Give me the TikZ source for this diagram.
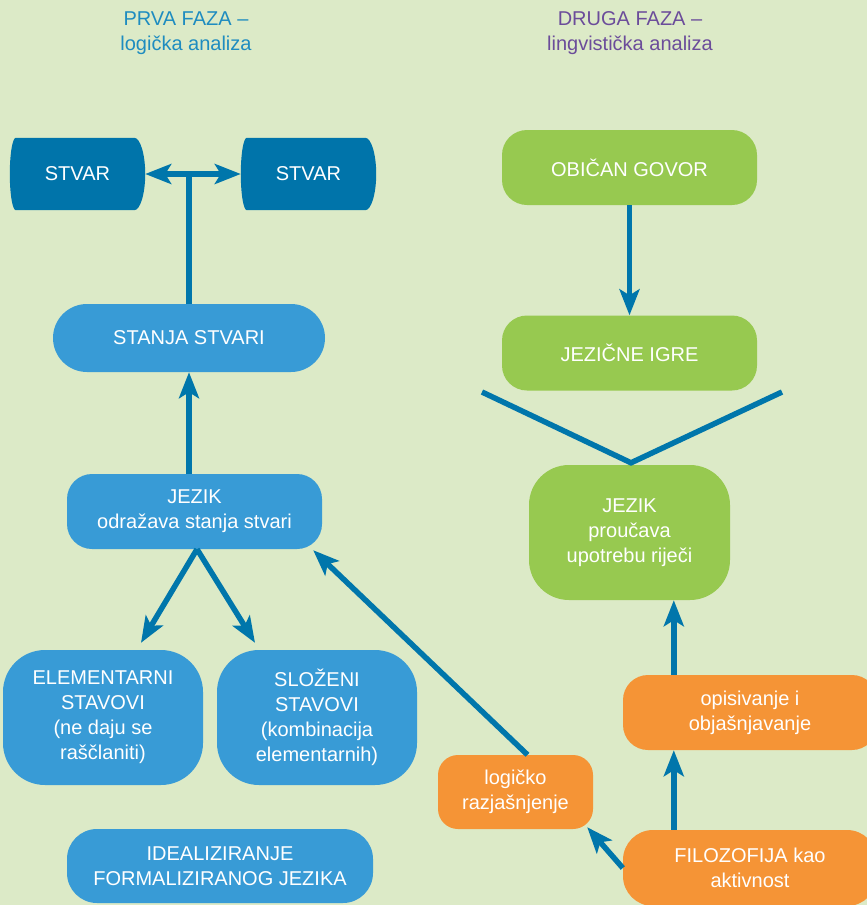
\documentclass[tikz,border=0pt]{standalone}
\usepackage{fontspec}
\setmainfont{Liberation Sans}
\usetikzlibrary{arrows.meta,calc,backgrounds}
\definecolor{bgc}{RGB}{220,234,199}
\definecolor{dkblue}{RGB}{0,116,170}
\definecolor{ltblue}{RGB}{56,155,214}
\definecolor{grn}{RGB}{151,201,80}
\definecolor{orng}{RGB}{245,148,54}
\definecolor{arrc}{RGB}{0,118,171}
\definecolor{tone}{RGB}{30,140,192}
\definecolor{ttwo}{RGB}{107,76,154}
\begin{document}
\begin{tikzpicture}[x=1pt,y=-1pt,
  txt/.style={text=white, font=\fontsize{20}{25}\selectfont, align=center, inner sep=0pt},
  box/.style={txt, rounded corners=#1},
  box/.default=25pt,
  ttl/.style={font=\fontsize{20}{25}\selectfont, align=center, inner sep=0pt},
  conn/.style={line width=5.5pt, draw=arrc},
  arr/.style={conn, -{Stealth[length=26pt,width=20pt,inset=6pt]}},
  darr/.style={conn, {Stealth[length=26pt,width=20pt,inset=6pt]}-{Stealth[length=26pt,width=20pt,inset=6pt]}}
]
\clip (0,0) rectangle (867,905);
\begin{scope}[on background layer]
\fill[bgc] (0,0) rectangle (867,905);
\end{scope}

% titles
\node[ttl, text=tone] (t1) at (186,33) {PRVA FAZA –\\logička analiza};
\node[ttl, text=ttwo] (t2) at (630,33) {DRUGA FAZA –\\lingvistička analiza};

% left column
\node[txt, minimum width=135pt, minimum height=72pt] (stvarL) at (77.5,174) {STVAR};
\node[txt, minimum width=135pt, minimum height=72pt] (stvarR) at (308.5,174) {STVAR};
\begin{scope}[on background layer]
\foreach \n in {stvarL,stvarR}{
  \fill[dkblue] ($(\n.north west)+(6,0)$) -- ($(\n.north east)+(-11,0)$)
    .. controls ($(\n.north east)+(-5,0)$) and ($(\n.east)+(0,-20)$) .. (\n.east)
    .. controls ($(\n.east)+(0,20)$) and ($(\n.south east)+(-5,0)$) .. ($(\n.south east)+(-11,0)$)
    -- ($(\n.south west)+(6,0)$)
    .. controls ($(\n.south west)+(2.7,0)$) and ($(\n.west)+(0,20)$) .. (\n.west)
    .. controls ($(\n.west)+(0,-20)$) and ($(\n.north west)+(2.7,0)$) .. ($(\n.north west)+(6,0)$) -- cycle;
}
\end{scope}
\node[box=34pt, fill=ltblue, minimum width=272pt, minimum height=68pt] (stanja) at (189,338) {STANJA STVARI};
\node[box=25pt, fill=ltblue, minimum width=255pt, minimum height=75pt] (jezik1) at (194.5,511.5) {JEZIK\\odražava stanja stvari};
\node[box=42pt, fill=ltblue, minimum width=200pt, minimum height=135pt] (elem) at (103,717.5) {ELEMENTARNI\\STAVOVI\\(ne daju se\\raščlaniti)};
\node[box=42pt, fill=ltblue, minimum width=200pt, minimum height=135pt] (sloz) at (317,717.5) {SLOŽENI\\STAVOVI\\(kombinacija\\elementarnih)};
\node[box=30pt, fill=ltblue, minimum width=306pt, minimum height=74pt] (ideal) at (220,866) {IDEALIZIRANJE\\FORMALIZIRANOG JEZIKA};

% right column
\node[box=25pt, fill=grn, minimum width=255pt, minimum height=75pt] (obican) at (629.5,167.5) {OBIČAN GOVOR};
\node[box=25pt, fill=grn, minimum width=255pt, minimum height=75pt] (igre) at (629.5,353) {JEZIČNE IGRE};
\node[box=40pt, fill=grn, minimum width=201pt, minimum height=135pt] (jezik2) at (629.5,532.5) {JEZIK\\proučava\\upotrebu riječi};
\node[box=20pt, fill=orng, minimum width=155pt, minimum height=74pt] (logicko) at (515.5,792) {logičko\\razjašnjenje};
\node[box=25pt, fill=orng, minimum width=254pt, minimum height=75pt] (opis) at (750,712.5) {opisivanje i\\objašnjavanje};
\node[box=30pt, fill=orng, minimum width=254pt, minimum height=76pt] (filo) at (750,868) {FILOZOFIJA kao\\aktivnost};

% connectors left
\draw[darr] (stvarL.east) -- (stvarR.west);
\draw[conn] (stanja.north) -- (stanja.north |- stvarL.east);
\draw[arr] (stanja.south |- jezik1.north) -- (stanja.south);
\coordinate (split) at ($(jezik1.south)+(2.5,0)$);
\draw[arr] (split) -- ($(elem.north)+(38,-7)$);
\draw[arr] (split) -- ($(sloz.north)+(-62,-7)$);
\draw[arr] ($(logicko.north)+(12,0)$) -- ($(jezik1.south east)+(-9,1)$);

% connectors right
\draw[arr] (obican.south) -- (igre.north);
\coordinate (vL) at (482,392);
\coordinate (vR) at (782,392);
\draw[conn, line join=miter] (vL) -- ($(jezik2.north)+(1.5,-2)$) -- (vR);
\coordinate (ox) at ($(opis.north west)+(51,0)$);
\draw[arr] (ox) -- (ox |- jezik2.south);
\coordinate (fx) at ($(filo.north west)+(51,0)$);
\draw[arr] (fx) -- (fx |- opis.south);
\draw[arr] (filo.west) -- ($(logicko.south east)+(-6,-2)$);
\end{tikzpicture}
\end{document}
